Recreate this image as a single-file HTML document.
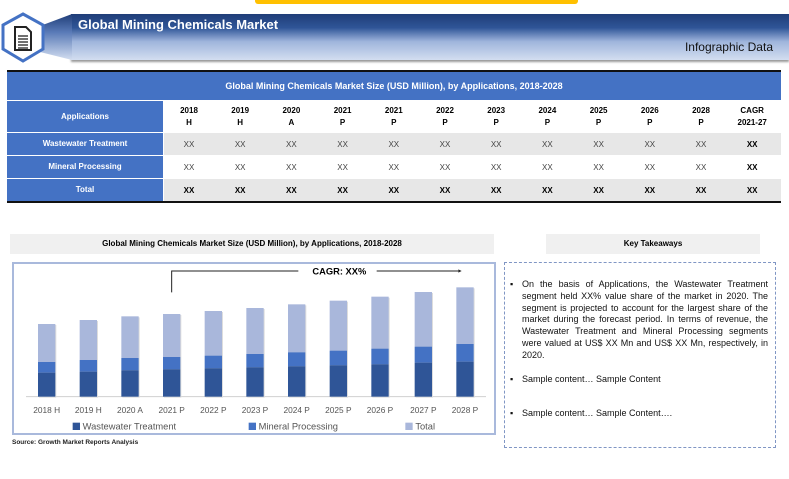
<!DOCTYPE html>
<html><head><meta charset="utf-8"><style>
*{margin:0;padding:0;box-sizing:border-box}
body{width:789px;height:479px;background:#fff;position:relative;overflow:hidden;font-family:"Liberation Sans",sans-serif}
.a{position:absolute}
.tbl div{position:absolute;text-align:center;font-size:8px}
</style></head><body>
<div class="a" style="left:255px;top:0;width:323px;height:4px;background:#ffc000;border-radius:0 0 3px 3px"></div>
<div class="a" style="left:71px;top:14px;width:718px;height:46px;background:linear-gradient(#1f3d78 0%,#2f5597 30%,#9fb5dc 60%,#d3def0 100%);box-shadow:0 2px 2px #999"></div>
<svg class="a" style="left:0;top:10px" width="80" height="56" viewBox="0 0 80 56">
<defs><linearGradient id="wg" x1="0" y1="0" x2="0" y2="1"><stop offset="0" stop-color="#1f3d78"/><stop offset="0.4" stop-color="#5a7bb8"/><stop offset="1" stop-color="#d3def0"/></linearGradient></defs>
<polygon points="40,16 72,4 72,50 40,42" fill="url(#wg)"/>
<polygon points="23,4 43,15 43,39 23,51 3,39 3,15" fill="#fff" stroke="#4472c4" stroke-width="3"/>
<path d="M15,17 h11 l5,5 v18 h-16z" fill="#fff" stroke="#222" stroke-width="2"/>
<g stroke="#222" stroke-width="1.3"><line x1="18" y1="26" x2="28" y2="26"/><line x1="18" y1="29" x2="28" y2="29"/><line x1="18" y1="32" x2="28" y2="32"/><line x1="18" y1="35" x2="28" y2="35"/><line x1="18" y1="38" x2="28" y2="38"/></g>
</svg>
<div class="a" style="left:78px;top:17px;color:#fff;font-weight:bold;font-size:13px">Global Mining Chemicals Market</div>
<div class="a" style="right:16px;top:40px;color:#111;font-size:12px">Infographic Data</div>

<div class="tbl">
<div style="left:7px;top:70px;width:774px;height:2px;background:#111"></div>
<div style="left:7px;top:72px;width:774px;height:28px;background:#4472c4;color:#fff;font-weight:bold;font-size:9px;line-height:28px">Global Mining Chemicals Market Size (USD Million), by Applications, 2018-2028</div>
<div style="left:7px;top:101px;width:156px;height:31px;background:#4472c4;color:#fff;font-weight:bold;line-height:31px">Applications</div>
<div style="left:7px;top:133px;width:156px;height:22px;background:#4472c4;color:#fff;font-weight:bold;line-height:22px">Wastewater Treatment</div>
<div style="left:7px;top:156px;width:156px;height:22px;background:#4472c4;color:#fff;font-weight:bold;line-height:22px">Mineral Processing</div>
<div style="left:7px;top:179px;width:156px;height:22px;background:#4472c4;color:#fff;font-weight:bold;line-height:22px">Total</div>
<div style="left:164px;top:133px;width:617px;height:22px;background:#e7e7e7"></div>
<div style="left:164px;top:179px;width:617px;height:22px;background:#e7e7e7"></div>
<div style="left:7px;top:201px;width:774px;height:2px;background:#111"></div>
</div>
<div class="tbl" id="cols"></div>

<div class="a" style="left:10px;top:234px;width:484px;height:20px;background:#f0f0f0;font-size:8px;font-weight:bold;text-align:center;line-height:20px">Global Mining Chemicals Market Size (USD Million), by Applications, 2018-2028</div>
<div class="a" style="left:12px;top:262px;width:484px;height:173px;border:2px solid #a9b9dc"></div>
<svg class="a" style="left:0;top:230px" width="500" height="220" viewBox="0 0 1500 660" font-family="Liberation Sans, sans-serif">
<polyline points="515,187 515,123 895,123" fill="none" stroke="#222" stroke-width="3"/>
<line x1="1130" y1="123" x2="1375" y2="123" stroke="#222" stroke-width="3"/>
<polygon points="1375,118 1385,123 1375,128" fill="#222"/>
<text x="1018" y="133" font-size="28" text-anchor="middle" font-weight="bold">CAGR: XX%</text>
<line x1="78" y1="500" x2="1458" y2="500" stroke="#d0d0d0" stroke-width="3"/>
<g id="bars"></g>
<rect x="218" y="578" width="22" height="22" fill="#2f5597"/><text x="248" y="598" font-size="28" fill="#555">Wastewater Treatment</text>
<rect x="746" y="578" width="22" height="22" fill="#4472c4"/><text x="776" y="598" font-size="28" fill="#555">Mineral Processing</text>
<rect x="1216" y="578" width="22" height="22" fill="#a9b7db"/><text x="1246" y="598" font-size="28" fill="#555">Total</text>
</svg>
<div class="a" style="left:12px;top:439px;font-size:6.5px;font-weight:bold;color:#222">Source: Growth Market Reports Analysis</div>

<div class="a" style="left:546px;top:234px;width:214px;height:20px;background:#f0f0f0;font-size:8px;font-weight:bold;text-align:center;line-height:20px">Key Takeaways</div>
<div class="a" style="left:504px;top:262px;width:272px;height:186px;border:1px dashed #8096c4"></div>
<div class="a" style="left:510px;top:279px;width:258px;font-size:9px;line-height:11.8px;color:#111">
<div style="position:relative;padding-left:12px;text-align:justify"><span style="position:absolute;left:0">▪</span>On the basis of Applications, the Wastewater Treatment segment held XX% value share of the market in 2020. The segment is projected to account for the largest share of the market during the forecast period. In terms of revenue, the Wastewater Treatment and Mineral Processing segments were valued at US$ XX Mn and US$ XX Mn, respectively, in 2020.</div>
<div style="position:relative;padding-left:12px;margin-top:12px"><span style="position:absolute;left:0">▪</span>Sample content… Sample Content</div>
<div style="position:relative;padding-left:12px;margin-top:23px"><span style="position:absolute;left:0">▪</span>Sample content… Sample Content….</div>
</div>
<script>
var h=[["2018","H"],["2019","H"],["2020","A"],["2021","P"],["2021","P"],["2022","P"],["2023","P"],["2024","P"],["2025","P"],["2026","P"],["2028","P"],["CAGR","2021-27"]];
var s="";
for(var i=0;i<12;i++){var cx=189+51.2*i;var b=i==11;
s+='<div style="left:'+(cx-25)+'px;top:105px;width:50px;font-weight:bold;line-height:12px">'+h[i][0]+'<br>'+h[i][1]+'</div>';
s+='<div style="left:'+(cx-25)+'px;top:140px;width:50px;'+(b?'font-weight:bold':'color:#444')+'">XX</div>';
s+='<div style="left:'+(cx-25)+'px;top:163px;width:50px;'+(b?'font-weight:bold':'color:#444')+'">XX</div>';
s+='<div style="left:'+(cx-25)+'px;top:186px;width:50px;font-weight:bold">XX</div>';}
document.getElementById("cols").innerHTML=s;
var xs=[140,265,390,515,640,765,890,1015,1140,1270,1395],T=[282,270,259,252,243,234,223,212,200,186,172],M=[396,390,384,381,377,372,367,362,356,350,342],W=[428,425,421,418,415,412,409,406,403,398,395];
var L=["2018 H","2019 H","2020 A","2021 P","2022 P","2023 P","2024 P","2025 P","2026 P","2027 P","2028 P"];
var g="";
for(var i=0;i<11;i++){var x=xs[i]-26;
g+='<rect x="'+(x+3)+'" y="'+(T[i]+3)+'" width="52" height="'+(500-T[i])+'" fill="#ddd"/>';
g+='<rect x="'+x+'" y="'+T[i]+'" width="52" height="'+(M[i]-T[i])+'" fill="#a9b7db"/>';
g+='<rect x="'+x+'" y="'+M[i]+'" width="52" height="'+(W[i]-M[i])+'" fill="#4472c4"/>';
g+='<rect x="'+x+'" y="'+W[i]+'" width="52" height="'+(500-W[i])+'" fill="#2f5597"/>';
g+='<text x="'+xs[i]+'" y="549" font-size="25" fill="#555" text-anchor="middle">'+L[i]+'</text>';}
document.getElementById("bars").innerHTML=g;
</script>
</body></html>
